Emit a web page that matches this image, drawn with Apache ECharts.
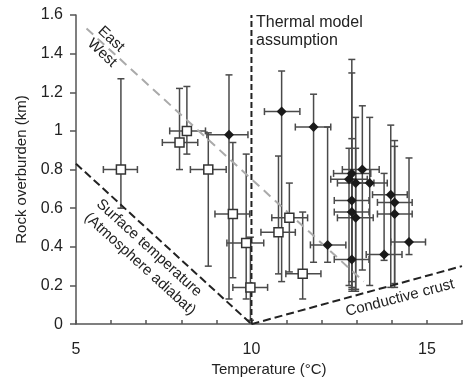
<!DOCTYPE html>
<html>
<head>
<meta charset="utf-8">
<script src="https://cdn.jsdelivr.net/npm/echarts@6/dist/echarts.min.js"></script>
<style>html,body{margin:0;padding:0;background:#fff}#c{width:472px;height:382px}</style>
</head>
<body>
<div id="c"></div>
<script>
// Open squares
var sqX   = [6.28, 7.95, 8.16, 8.77, 9.47, 9.85, 9.97, 10.77, 11.08, 11.46];
var sqY   = [0.80, 0.94, 1.00, 0.80, 0.57, 0.42, 0.19, 0.475, 0.55, 0.26];
var sqXlo = [5.78, 7.46, 7.67, 8.26, 8.96, 9.30, 9.47, 10.27, 10.58, 10.98];
var sqXhi = [6.75, 8.47, 8.69, 9.28, 9.95, 10.35, 10.46, 11.25, 11.60, 11.98];
var sqYlo = [0.60, 0.80, 0.88, 0.30, 0.24, 0.13, 0.02, 0.26, 0.27, 0.13];
var sqYhi = [1.27, 1.22, 1.23, 0.99, 0.94, 0.88, 0.45, 0.87, 0.73, 0.58];
// Filled diamonds
var dmX   = [9.36, 10.86, 11.77, 12.17, 12.86, 12.78, 12.97, 13.16, 13.37, 12.86, 12.86, 12.97, 12.86, 13.78, 13.97, 14.08, 14.08, 14.49];
var dmY   = [0.98, 1.10, 1.02, 0.41, 0.78, 0.75, 0.73, 0.80, 0.73, 0.64, 0.58, 0.55, 0.335, 0.36, 0.67, 0.63, 0.57, 0.425];
var dmXlo = [8.73, 10.37, 11.25, 11.68, 12.34, 12.26, 12.45, 12.59, 12.88, 12.36, 12.36, 12.45, 12.36, 13.27, 13.45, 13.59, 13.59, 13.97];
var dmXhi = [9.90, 11.38, 12.26, 12.69, 13.40, 13.30, 13.49, 13.64, 13.87, 13.35, 13.35, 13.47, 13.35, 14.29, 14.44, 14.58, 14.58, 14.96];
var dmYlo = [0.13, 0.22, 0.32, 0.32, 0.18, 0.20, 0.17, 0.28, 0.20, 0.19, 0.22, 0.18, 0.17, 0.33, 0.19, 0.19, 0.21, 0.36];
var dmYhi = [1.29, 1.31, 1.19, 1.02, 1.37, 0.91, 1.07, 1.13, 1.07, 1.30, 0.96, 0.91, 0.75, 0.78, 1.03, 0.95, 0.92, 0.86];
// Reference lines
var eastWestLine = [[5.3, 1.53], [13.2, 0.22]];
var surfaceLine = [[5, 0.83], [10, 0]];
var crustLine = [[10, 0], [16, 0.30]];
var thermalLine = [[10, 0], [10, 1.6]];
var xTicks = [5, 10, 15];

function pack(xs, ys, xlo, xhi, ylo, yhi) {
  return xs.map(function (x, i) { return [x, ys[i], xlo[i], xhi[i], ylo[i], yhi[i]]; });
}
var sqData = pack(sqX, sqY, sqXlo, sqXhi, sqYlo, sqYhi);
var dmData = pack(dmX, dmY, dmXlo, dmXhi, dmYlo, dmYhi);

function errRender(params, api) {
  var x = api.value(0), y = api.value(1);
  var c = api.coord([x, y]);
  var l = api.coord([api.value(2), y]);
  var r = api.coord([api.value(3), y]);
  var b = api.coord([x, api.value(4)]);
  var t = api.coord([x, api.value(5)]);
  var cap = 3.5;
  var st = { stroke: '#4a4a4a', lineWidth: 1.5 };
  function ln(x1, y1, x2, y2) { return { type: 'line', shape: { x1: x1, y1: y1, x2: x2, y2: y2 }, style: st }; }
  return { type: 'group', children: [
    ln(c[0], t[1], c[0], b[1]),
    ln(c[0] - cap, t[1], c[0] + cap, t[1]),
    ln(c[0] - cap, b[1], c[0] + cap, b[1]),
    ln(l[0], c[1], r[0], c[1]),
    ln(l[0], c[1] - cap, l[0], c[1] + cap),
    ln(r[0], c[1] - cap, r[0], c[1] + cap)
  ]};
}

var font = '"Liberation Sans", Arial, sans-serif';
var chart = echarts.init(document.getElementById('c'), null, { renderer: 'canvas' });
chart.setOption({
  animation: false,
  backgroundColor: '#fff',
  grid: { left: 76, right: 10, top: 15, bottom: 57 },
  xAxis: {
    type: 'value', min: 5, max: 16, interval: 1,
    name: 'Temperature (°C)', nameLocation: 'middle', nameGap: 37,
    nameTextStyle: { fontFamily: font, fontSize: 15, color: '#222' },
    axisLine: { lineStyle: { color: '#555', width: 1.5 } },
    axisTick: { inside: true, length: 4, lineStyle: { color: '#555', width: 1.5 } },
    axisLabel: { margin: 17, fontFamily: font, fontSize: 16, color: '#222',
      formatter: function (v) { return xTicks.indexOf(v) >= 0 ? String(v) : ''; } },
    splitLine: { show: false }
  },
  yAxis: {
    type: 'value', min: 0, max: 1.6, interval: 0.2,
    name: 'Rock overburden (km)', nameLocation: 'middle', nameGap: 46,
    nameTextStyle: { fontFamily: font, fontSize: 15, color: '#222' },
    axisLine: { show: true, lineStyle: { color: '#555', width: 1.5 } },
    axisTick: { show: true, length: 6, lineStyle: { color: '#555', width: 1.5 } },
    axisLabel: { margin: 13, fontFamily: font, fontSize: 16, color: '#222',
      formatter: function (v) { return String(Math.round(v * 10) / 10); } },
    splitLine: { show: false }
  },
  series: [
    { type: 'line', data: eastWestLine, symbol: 'none', silent: true,
      lineStyle: { color: '#aaa', width: 2, type: [9, 6] } },
    { type: 'line', data: surfaceLine, symbol: 'none', silent: true,
      lineStyle: { color: '#222', width: 2, type: [8, 4] } },
    { type: 'line', data: crustLine, symbol: 'none', silent: true,
      lineStyle: { color: '#222', width: 2, type: [8, 4] } },
    { type: 'line', data: thermalLine, symbol: 'none', silent: true,
      lineStyle: { color: '#222', width: 2, type: [6, 3] } },
    { type: 'custom', data: sqData, renderItem: errRender, silent: true, encode: { x: 0, y: 1 }, z: 3 },
    { type: 'custom', data: dmData, renderItem: errRender, silent: true, encode: { x: 0, y: 1 }, z: 3 },
    { type: 'scatter', data: sqData.map(function (d) { return [d[0], d[1]]; }), symbol: 'rect', symbolSize: 9,
      itemStyle: { color: '#fff', borderColor: '#333', borderWidth: 1.5, opacity: 1 }, silent: true, z: 5 },
    { type: 'scatter', data: dmData.map(function (d) { return [d[0], d[1]]; }), symbol: 'diamond', symbolSize: 10,
      itemStyle: { color: '#1a1a1a', opacity: 1 }, silent: true, z: 5 }
  ],
  graphic: [
    { type: 'text', x: 111, y: 39, rotation: -0.743, style: { text: 'East', font: '15px ' + font, fill: '#222', align: 'center', verticalAlign: 'middle' } },
    { type: 'text', x: 102, y: 53, rotation: -0.743, style: { text: 'West', font: '15px ' + font, fill: '#222', align: 'center', verticalAlign: 'middle' } },
    { type: 'text', x: 256, y: 14, style: { text: 'Thermal model\nassumption', font: '16px ' + font, lineHeight: 18, fill: '#222', align: 'left', verticalAlign: 'top' } },
    { type: 'text', x: 149, y: 248, rotation: -0.738, style: { text: 'Surface temperature', font: '15px ' + font, fill: '#222', align: 'center', verticalAlign: 'middle' } },
    { type: 'text', x: 140, y: 264, rotation: -0.738, style: { text: '(Atmosphere adiabat)', font: '15px ' + font, fill: '#222', align: 'center', verticalAlign: 'middle' } },
    { type: 'text', x: 400, y: 298, rotation: 0.255, style: { text: 'Conductive crust', font: '15px ' + font, fill: '#222', align: 'center', verticalAlign: 'middle' } }
  ]
});
</script>
</body>
</html>
